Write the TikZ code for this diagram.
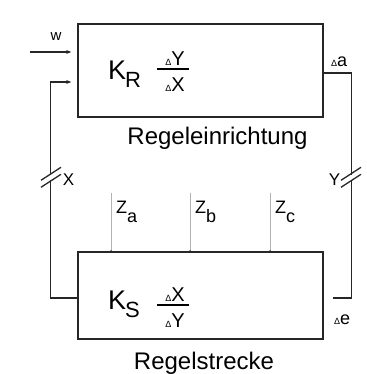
\documentclass[tikz,border=0pt]{standalone}
\usepackage{fontspec}
\setmainfont{Liberation Sans}
\usetikzlibrary{arrows.meta, positioning, calc}
\newcommand{\dtri}{{\fontsize{9}{9}\selectfont Δ}}

\begin{document}
\begin{tikzpicture}[
  x=1pt, y=1pt,
  blk/.style={rectangle, draw=black!85, line width=1.6pt,
              minimum width=245pt, inner sep=0pt},
  title/.style={font=\fontsize{24}{28}\selectfont, inner sep=0pt, anchor=base},
  gain/.style={font=\fontsize{27}{28}\selectfont, inner sep=0pt, anchor=base west},
  quot/.style={font=\fontsize{20}{22}\selectfont, inner sep=0pt, anchor=base},
  sig/.style={font=\fontsize{18}{20}\selectfont, inner sep=0pt},
  wire/.style={draw=black!85, line width=1.3pt},
  arr/.style={wire, -{Stealth[length=5pt,width=4pt]}},
  dist/.style={draw=black!30, line width=0.4pt}
]
  \useasboundingbox (0,0) rectangle (366,374);
  \node[blk, minimum height=93pt] (R) at (200.5,303.5) {};
  \node[blk, minimum height=87pt] (S) at (200.5,78.5) {};
  \node[gain] (KR) at (108,294.5) {K\kern-1pt\raisebox{-8pt}{\fontsize{22}{22}\selectfont R}};
  \node[quot] (NR) at (175,308) {\dtri Y};
  \node[quot] (DR) at (175,282) {\dtri X};
  \draw[line width=1.4pt] (157,305) -- (189,305);
  \node[gain] (KS) at (108,64.5) {K\kern-1pt\raisebox{-8pt}{\fontsize{22}{22}\selectfont S}};
  \node[quot] (NS) at (175,72.5) {\dtri X};
  \node[quot] (DS) at (175,46) {\dtri Y};
  \draw[line width=1.4pt] (157,69) -- (189,69);
  \node[title] (RT) at (217.5,229) {Regeleinrichtung};
  \node[title] (ST) at (204,5) {Regelstrecke};
  \coordinate (W0) at (30,322);
  \node[sig, font=\fontsize{15}{16}\selectfont] (W) at (56,337) {w};
  \draw[arr, shorten >=6pt] (W0) -- (W0 -| R.west);
  \draw[arr, shorten >=6pt] ([yshift=-2.5pt]S.west) -- ++(-27,0) |- ([yshift=-11.5pt]R.west);
  \draw[wire, shorten >=9pt] ([yshift=-2.5pt]R.east) -- ++(28,0) |- ([yshift=-2.5pt]S.east);
  \node[sig, anchor=base west] (DA) at (331,307) {\dtri a};
  \node[sig, anchor=base west] (DE) at (334,49) {\dtri e};
  \coordinate (BX) at (51,196.7);
  \coordinate (BY) at (351,196.7);
  \fill[white] ($(BX)+(-2,-2.5)$) rectangle ($(BX)+(2,2.5)$);
  \fill[white] ($(BY)+(-2,-2.5)$) rectangle ($(BY)+(2,2.5)$);
  \draw[wire] ($(BX)+(-10,-3)$) -- ++(20,13);
  \draw[wire] ($(BX)+(-10,-10)$) -- ++(20,13);
  \draw[wire] ($(BY)+(-10,-3)$) -- ++(20,13);
  \draw[wire] ($(BY)+(-10,-10)$) -- ++(20,13);
  \node[sig, font=\fontsize{17}{18}\selectfont] (X) at (68.5,194) {X};
  \node[sig, font=\fontsize{17}{18}\selectfont] (Y) at (334.5,194) {Y};
  \coordinate (ZA) at (111,181);
  \coordinate (ZB) at (190,181);
  \coordinate (ZC) at (270,181);
  \draw[dist] (ZA) -- (ZA |- S.north);
  \draw[dist] (ZB) -- (ZB |- S.north);
  \draw[dist] (ZC) -- (ZC |- S.north);
  \fill[black!85] (ZA |- S.north) circle (1.1pt);
  \fill[black!85] (ZB |- S.north) circle (1.1pt);
  \fill[black!85] (ZC |- S.north) circle (1.1pt);
  \node[sig, anchor=base west] (LA) at (116,160) {Z\raisebox{-9pt}{a}};
  \node[sig, anchor=base west] (LB) at (195,160) {Z\raisebox{-9pt}{b}};
  \node[sig, anchor=base west] (LC) at (275,160) {Z\raisebox{-9pt}{c}};
\end{tikzpicture}
\end{document}
